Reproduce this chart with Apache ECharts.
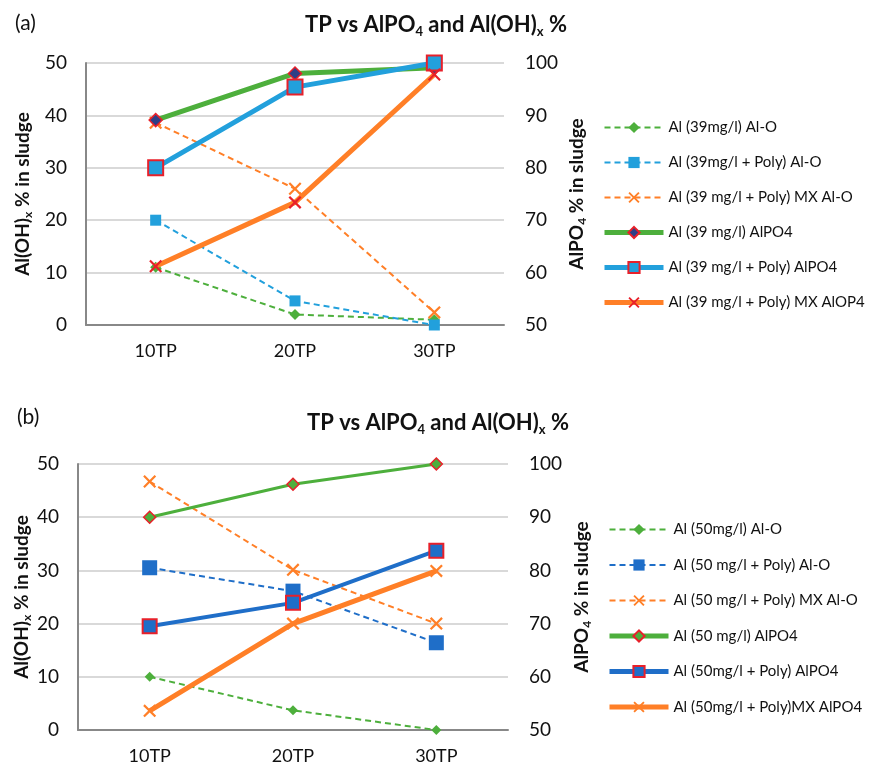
<!DOCTYPE html>
<html><head><meta charset="utf-8">
<script src="https://cdn.jsdelivr.net/npm/echarts@6/dist/echarts.min.js"></script>
<style>html,body{margin:0;padding:0;background:#fff}#c{width:871px;height:769px}</style>
</head><body><div id="c"></div>
<script>
const categories = ['10TP', '20TP', '30TP'];
// Chart (a) – left axis Al(OH)x (%), right axis AlPO4 (%)
const a_names = ['Al (39mg/l) Al-O', 'Al (39mg/l + Poly) Al-O', 'Al (39 mg/l + Poly) MX Al-O',
  'Al (39 mg/l) AlPO4', 'Al (39 mg/l + Poly) AlPO4', 'Al (39 mg/l + Poly) MX AlOP4'];
const a_AlO = [11, 2, 1];
const a_PolyAlO = [20, 4.6, 0];
const a_MXAlO = [38.6, 26, 2.4];
const a_AlPO4 = [89.1, 98, 99.1];
const a_PolyAlPO4 = [80, 95.4, 100];
const a_MXAlPO4 = [61.2, 73.4, 97.8];
// Chart (b)
const b_names = ['Al (50mg/l) Al-O', 'Al (50 mg/l + Poly) Al-O', 'Al (50 mg/l + Poly) MX Al-O',
  'Al (50 mg/l) AlPO4', 'Al (50mg/l + Poly) AlPO4', 'Al (50mg/l + Poly)MX AlPO4'];
const b_AlO = [10, 3.7, 0];
const b_PolyAlO = [30.5, 26.1, 16.4];
const b_MXAlO = [46.7, 30.1, 20];
const b_AlPO4 = [90, 96.2, 100];
const b_PolyAlPO4 = [69.5, 73.9, 83.7];
const b_MXAlPO4 = [53.6, 70, 79.9];

const FONT = 'Lato, "Open Sans", sans-serif';
const TXT = '#111';
const GREEN = '#4DAF3C', LBLUE = '#22A0DC', DBLUE = '#1F6EC8', ORANGE = '#FF7F27', RED = '#E8202A';
const XSYM = 'path://M0,1.2 L1.2,0 L5,3.8 L8.8,0 L10,1.2 L6.2,5 L10,8.8 L8.8,10 L5,6.2 L1.2,10 L0,8.8 L3.8,5 Z';

const titleRich = {
  b: {fontFamily: FONT, fontSize: 22, fontWeight: 'bold', color: TXT, lineHeight: 28, verticalAlign: 'bottom'},
  s: {fontFamily: FONT, fontSize: 13, fontWeight: 'bold', color: TXT, lineHeight: 13, verticalAlign: 'bottom', padding: [0,0,-2,0]}
};
const nameRich = {
  b: {fontFamily: FONT, fontSize: 19, fontWeight: 'bold', color: TXT, lineHeight: 23, verticalAlign: 'bottom'},
  s: {fontFamily: FONT, fontSize: 12, fontWeight: 'bold', color: TXT, lineHeight: 12, verticalAlign: 'bottom', padding: [0,0,-2,0]}
};
const titleText = '{b|TP vs AlPO}{s|4}{b| and Al(OH)}{s|x}{b| %}';

function xAx(gi) {
  return {type: 'category', gridIndex: gi, data: categories, boundaryGap: true,
    axisLine: {lineStyle: {color: '#888', width: 2}}, axisTick: {show: false},
    axisLabel: {fontFamily: FONT, fontSize: 18, color: TXT, margin: 17}};
}
function yLeft(gi, gap) {
  return {type: 'value', gridIndex: gi, min: 0, max: 50, interval: 10, position: 'left',
    name: '{b|Al(OH)}{s|x}{b| % in sludge}', nameLocation: 'middle', nameGap: gap, nameRotate: 90,
    nameTextStyle: {rich: nameRich},
    axisLine: {show: true, lineStyle: {color: '#888', width: 2}}, axisTick: {show: false},
    splitLine: {lineStyle: {color: '#d9d9d9', width: 2}},
    axisLabel: {fontFamily: FONT, fontSize: 19, color: TXT, margin: 19}};
}
function yRight(gi, gap) {
  return {type: 'value', gridIndex: gi, min: 50, max: 100, interval: 10, position: 'right',
    name: '{b|AlPO}{s|4}{b| % in sludge}', nameLocation: 'middle', nameGap: gap, nameRotate: 90,
    nameTextStyle: {rich: nameRich},
    axisLine: {show: false}, axisTick: {show: false}, splitLine: {show: false},
    axisLabel: {fontFamily: FONT, fontSize: 19, color: TXT, margin: 21}};
}
function ser(name, data, xi, yi, color, dashed, width, symbol, size, fill, border, bw, z) {
  return {type: 'line', name, data, xAxisIndex: xi, yAxisIndex: yi, z: z,
    symbol, symbolSize: size,
    lineStyle: {color, width, type: dashed ? [6, 4] : 'solid'},
    itemStyle: {color: fill, borderColor: border || fill, borderWidth: bw || 0},
    emphasis: {disabled: true}, animation: false};
}
function legendData(names) {
  return names.map((n, i) => i < 3 ? {name: n} : {name: n, lineStyle: {width: 5}});
}

const option = {
  animation: false,
  backgroundColor: '#fff',
  title: [
    {text: '(a)', left: 10, top: 8, textStyle: {fontFamily: FONT, fontSize: 21, fontWeight: 'normal', color: TXT}},
    {text: titleText, left: 300, top: 3, textStyle: {rich: titleRich}},
    {text: '(b)', left: 12, top: 402, textStyle: {fontFamily: FONT, fontSize: 21, fontWeight: 'normal', color: TXT}},
    {text: titleText, left: 302, top: 401, textStyle: {rich: titleRich}}
  ],
  grid: [
    {left: 86, top: 63, width: 418, height: 262},
    {left: 78, top: 464, width: 430, height: 266}
  ],
  xAxis: [xAx(0), xAx(1)],
  yAxis: [yLeft(0, 54), yRight(0, 59), yLeft(1, 46), yRight(1, 60)],
  legend: [
    {orient: 'vertical', left: 597, top: 115, itemWidth: 59, itemHeight: 14, itemGap: 20,
     data: legendData(a_names), textStyle: {fontFamily: FONT, fontSize: 15, color: TXT}, selectedMode: false},
    {orient: 'vertical', left: 602, top: 517, itemWidth: 59, itemHeight: 14, itemGap: 20.5,
     data: legendData(b_names), textStyle: {fontFamily: FONT, fontSize: 15, color: TXT}, selectedMode: false}
  ],
  series: [
    ser(a_names[0], a_AlO, 0, 0, GREEN, true, 2, 'diamond', 11, GREEN, null, 0, 3),
    ser(a_names[1], a_PolyAlO, 0, 0, LBLUE, true, 2, 'rect', 11, LBLUE, null, 0, 3),
    ser(a_names[2], a_MXAlO, 0, 0, ORANGE, true, 2, XSYM, 13, ORANGE, null, 0, 3),
    ser(a_names[3], a_AlPO4, 0, 1, GREEN, false, 5, 'diamond', 13, '#2E3F86', RED, 1.5, 4),
    ser(a_names[4], a_PolyAlPO4, 0, 1, LBLUE, false, 5, 'rect', 15, LBLUE, RED, 2, 5),
    ser(a_names[5], a_MXAlPO4, 0, 1, ORANGE, false, 5, XSYM, 13, RED, null, 0, 6),

    ser(b_names[0], b_AlO, 1, 2, GREEN, true, 2, 'diamond', 10, GREEN, null, 0, 3),
    ser(b_names[1], b_PolyAlO, 1, 2, DBLUE, true, 2, 'rect', 15, DBLUE, null, 0, 3),
    ser(b_names[2], b_MXAlO, 1, 2, ORANGE, true, 2, XSYM, 13, ORANGE, null, 0, 3),
    ser(b_names[3], b_AlPO4, 1, 3, GREEN, false, 3, 'diamond', 12, GREEN, RED, 1.5, 4),
    ser(b_names[4], b_PolyAlPO4, 1, 3, DBLUE, false, 4, 'rect', 14, DBLUE, RED, 2, 5),
    ser(b_names[5], b_MXAlPO4, 1, 3, ORANGE, false, 5, XSYM, 13, ORANGE, null, 0, 6)
  ]
};
const chart = echarts.init(document.getElementById('c'), null, {renderer: 'canvas'});
chart.setOption(option);
</script></body></html>
